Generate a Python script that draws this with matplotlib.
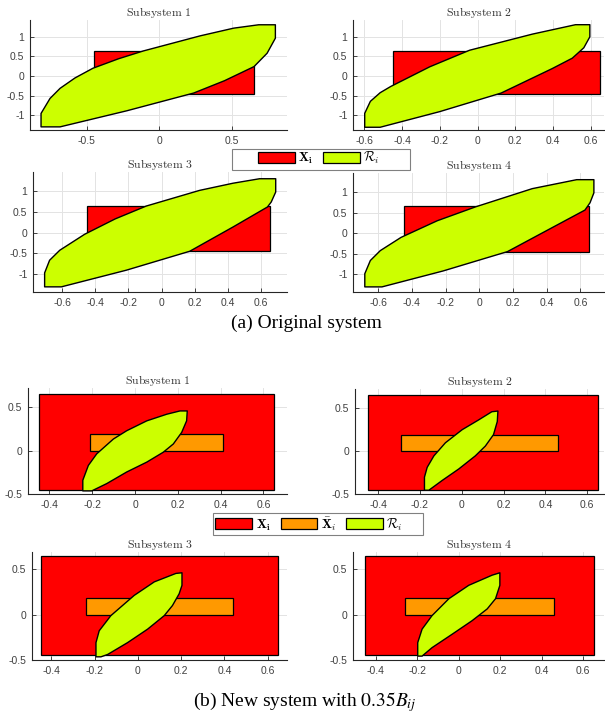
import matplotlib
matplotlib.use("Agg")
import matplotlib.pyplot as plt
from matplotlib.patches import Polygon, Rectangle, Patch

plt.rcParams['mathtext.fontset'] = 'cm'
plt.rcParams['font.family'] = ['Liberation Sans', 'DejaVu Sans']

W, H = 605, 718

# ---------------- data ----------------
titles = ['Subsystem 1', 'Subsystem 2', 'Subsystem 3', 'Subsystem 4']

# state constraint set X_i (same in all panels): xmin, xmax, ymin, ymax
X_box = (-0.45, 0.65, -0.45, 0.65)

# (a) original system
a_xlims = [(-0.89, 0.88), (-0.66, 0.67), (-0.775, 0.755), (-0.75, 0.74)]
a_ylims = [(-1.38, 1.43), (-1.38, 1.43), (-1.43, 1.46), (-1.43, 1.46)]
a_xticks = [[-0.5, 0, 0.5],
            [-0.6, -0.4, -0.2, 0, 0.2, 0.4, 0.6],
            [-0.6, -0.4, -0.2, 0, 0.2, 0.4, 0.6],
            [-0.6, -0.4, -0.2, 0, 0.2, 0.4, 0.6]]
a_yticks = [-1, -0.5, 0, 0.5, 1]

# reachable sets R_i, original system (boundary vertices)
Ra1_x = [-0.814, -0.814, -0.752, -0.683, -0.58, -0.457, -0.28, -0.108, 0.283, 0.513, 0.685, 0.80,
         0.80, 0.743, 0.653, 0.45, 0.237, -0.223, -0.683]
Ra1_y = [-1.30, -0.957, -0.573, -0.316, -0.05, 0.197, 0.44, 0.641, 1.026, 1.222, 1.308, 1.308,
         0.966, 0.581, 0.24, -0.12, -0.436, -0.889, -1.30]
Ra2_x = [-0.598, -0.598, -0.568, -0.516, -0.46, -0.253, -0.042, 0.291, 0.519, 0.595,
         0.595, 0.563, 0.502, 0.396, 0.125, -0.20, -0.516]
Ra2_y = [-1.31, -0.955, -0.648, -0.427, -0.268, 0.235, 0.658, 1.07, 1.31, 1.31,
         1.0, 0.72, 0.455, 0.19, -0.436, -0.91, -1.31]
Ra3_x = [-0.705, -0.705, -0.675, -0.614, -0.464, -0.28, -0.092, 0.229, 0.43, 0.59, 0.687,
         0.687, 0.66, 0.637, 0.43, 0.169, -0.213, -0.604]
Ra3_y = [-1.306, -0.97, -0.665, -0.425, -0.04, 0.33, 0.641, 1.018, 1.19, 1.298, 1.298,
         0.978, 0.737, 0.617, 0.136, -0.449, -0.905, -1.306]
Ra4_x = [-0.68, -0.68, -0.647, -0.588, -0.465, -0.25, -0.02, 0.314, 0.578, 0.68,
         0.68, 0.657, 0.627, 0.47, 0.167, -0.216, -0.578]
Ra4_y = [-1.306, -0.986, -0.665, -0.425, -0.104, 0.30, 0.641, 1.08, 1.298, 1.298,
         0.978, 0.737, 0.56, 0.216, -0.449, -0.92, -1.306]

# (b) new system with 0.35 B_ij
b_xlims = [(-0.50, 0.71), (-0.51, 0.68), (-0.49, 0.69), (-0.51, 0.70)]
b_ylims = [(-0.50, 0.72), (-0.50, 0.72), (-0.50, 0.69), (-0.50, 0.69)]
b_xticks = [-0.4, -0.2, 0, 0.2, 0.4, 0.6]
b_yticks = [-0.5, 0, 0.5]

# tightened sets X-bar_i: xmin, xmax, ymin, ymax
Xbar_boxes = [(-0.21, 0.41, 0.0, 0.19), (-0.29, 0.46, 0.0, 0.18),
              (-0.24, 0.44, 0.0, 0.18), (-0.26, 0.46, 0.0, 0.18)]

Rb1_x = [-0.244, -0.244, -0.218, -0.179, -0.101, -0.039, 0.055, 0.148, 0.21, 0.244,
         0.241, 0.218, 0.179, 0.132, 0.055, -0.039, -0.132, -0.202]
Rb1_y = [-0.464, -0.342, -0.171, -0.038, 0.133, 0.228, 0.342, 0.418, 0.456, 0.456,
         0.342, 0.209, 0.076, -0.019, -0.133, -0.247, -0.38, -0.464]
Rb2_x = [-0.178, -0.178, -0.165, -0.133, -0.078, 0.002, 0.081, 0.144, 0.173,
         0.170, 0.152, 0.113, 0.065, -0.014, -0.093, -0.157]
Rb2_y = [-0.456, -0.304, -0.19, -0.057, 0.095, 0.247, 0.361, 0.456, 0.464,
         0.342, 0.19, 0.057, -0.057, -0.209, -0.342, -0.456]
Rb3_x = [-0.194, -0.194, -0.179, -0.125, -0.017, 0.076, 0.176, 0.204,
         0.204, 0.191, 0.16, 0.122, 0.045, -0.048, -0.14, -0.171]
Rb3_y = [-0.465, -0.309, -0.178, -0.011, 0.212, 0.361, 0.454, 0.461,
         0.323, 0.23, 0.10, -0.011, -0.16, -0.309, -0.439, -0.465]
Rb4_x = [-0.198, -0.198, -0.177, -0.129, -0.048, 0.048, 0.161, 0.198,
         0.198, 0.177, 0.137, 0.064, -0.032, -0.129, -0.177]
Rb4_y = [-0.457, -0.309, -0.16, -0.011, 0.175, 0.323, 0.435, 0.461,
         0.323, 0.175, 0.063, -0.067, -0.216, -0.364, -0.457]

Ra = [(Ra1_x, Ra1_y), (Ra2_x, Ra2_y), (Ra3_x, Ra3_y), (Ra4_x, Ra4_y)]
Rb = [(Rb1_x, Rb1_y), (Rb2_x, Rb2_y), (Rb3_x, Rb3_y), (Rb4_x, Rb4_y)]

# ---------------- style ----------------
RED = '#ff0000'
ORANGE = '#ff9900'
GREEN = '#ccff00'
AXC = '#262626'
TICKC = '#404040'
GRIDC = '#e3e3e3'


def rect(l, r, t, b):
    return [l / W, 1 - b / H, (r - l) / W, (b - t) / H]


a_pos = [rect(30, 287, 20, 130), rect(353, 604, 20, 130),
         rect(33, 287, 172, 292), rect(353, 604, 173, 292)]
b_pos = [rect(28, 287, 388, 494), rect(355, 604, 389, 494),
         rect(32, 287, 552, 660), rect(353, 604, 552, 660)]

fig = plt.figure(figsize=(W / 100, H / 100), dpi=100)


def style(ax, title):
    ax.set_axisbelow(True)
    ax.grid(True, color=GRIDC, lw=0.7)
    for s in ['top', 'right']:
        ax.spines[s].set_visible(False)
    for s in ['left', 'bottom']:
        ax.spines[s].set_color(AXC)
        ax.spines[s].set_linewidth(0.8)
    ax.tick_params(direction='in', length=3, width=0.6, color=AXC,
                   labelsize=7.5, labelcolor=TICKC, pad=4)
    ax.set_title(r'$\mathrm{' + title.replace(' ', r'\ ') + '}$',
                 fontsize=8.5, pad=2.5, color='#333333')


def box(ax, b, color, z):
    ax.add_patch(Rectangle((b[0], b[2]), b[1] - b[0], b[3] - b[2],
                           facecolor=color, edgecolor='black', lw=0.9, zorder=z))


for i in range(4):
    ax = fig.add_axes(a_pos[i])
    box(ax, X_box, RED, 2)
    ax.add_patch(Polygon(list(zip(*Ra[i])), closed=True, facecolor=GREEN,
                         edgecolor='black', lw=1.0, zorder=3, joinstyle='round'))
    ax.set_xlim(*a_xlims[i])
    ax.set_ylim(*a_ylims[i])
    ax.set_xticks(a_xticks[i])
    ax.set_xticklabels([f'{v:g}' for v in a_xticks[i]])
    ax.set_yticks(a_yticks)
    ax.set_yticklabels([f'{v:g}' for v in a_yticks])
    style(ax, titles[i])

for i in range(4):
    ax = fig.add_axes(b_pos[i])
    box(ax, X_box, RED, 2)
    box(ax, Xbar_boxes[i], ORANGE, 3)
    ax.add_patch(Polygon(list(zip(*Rb[i])), closed=True, facecolor=GREEN,
                         edgecolor='black', lw=1.0, zorder=4, joinstyle='round'))
    ax.set_xlim(*b_xlims[i])
    ax.set_ylim(*b_ylims[i])
    ax.set_xticks(b_xticks)
    ax.set_xticklabels([f'{v:g}' for v in b_xticks])
    ax.set_yticks(b_yticks)
    ax.set_yticklabels([f'{v:g}' for v in b_yticks])
    style(ax, titles[i])

lab_X = r'$\mathbf{X}_\mathbf{i}$'
lab_Xbar = r'$\bar{\mathbf{X}}_i$'
lab_R = r'$\mathcal{R}_i$'

leg_kw = dict(loc='center', fontsize=9.5, frameon=False,
              handlelength=2.8, handleheight=0.9, handletextpad=0.25,
              columnspacing=0.75, borderpad=0, borderaxespad=0)

h_a = [Patch(facecolor=RED, edgecolor='black', lw=0.9),
       Patch(facecolor=GREEN, edgecolor='black', lw=0.9)]
fig.legend(h_a, [lab_X, lab_R], ncol=2, bbox_to_anchor=(319 / W, 1 - 158 / H), **leg_kw)
fig.patches.append(Rectangle((232 / W, 1 - 170 / H), (410 - 232) / W, 21 / H,
                             transform=fig.transFigure, facecolor='white',
                             edgecolor='#808080', lw=0.8, zorder=0.5))

h_b = [Patch(facecolor=RED, edgecolor='black', lw=0.9),
       Patch(facecolor=ORANGE, edgecolor='black', lw=0.9),
       Patch(facecolor=GREEN, edgecolor='black', lw=0.9)]
fig.legend(h_b, [lab_X, lab_Xbar, lab_R], ncol=3,
           bbox_to_anchor=(309 / W, 1 - 524 / H), **leg_kw)
fig.patches.append(Rectangle((213 / W, 1 - 535 / H), (423 - 213) / W, 22 / H,
                             transform=fig.transFigure, facecolor='white',
                             edgecolor='#808080', lw=0.8, zorder=0.5))

fig.text(306 / W, 1 - 323 / H, '(a) Original system', ha='center', va='center',
         fontsize=14, family='Liberation Serif')
fig.text(305 / W, 1 - 702 / H, r'(b) New system with $0.35B_{ij}$', ha='center',
         va='center', fontsize=14, family='Liberation Serif', math_fontfamily='stix')

fig.savefig('out.png', dpi=100)
